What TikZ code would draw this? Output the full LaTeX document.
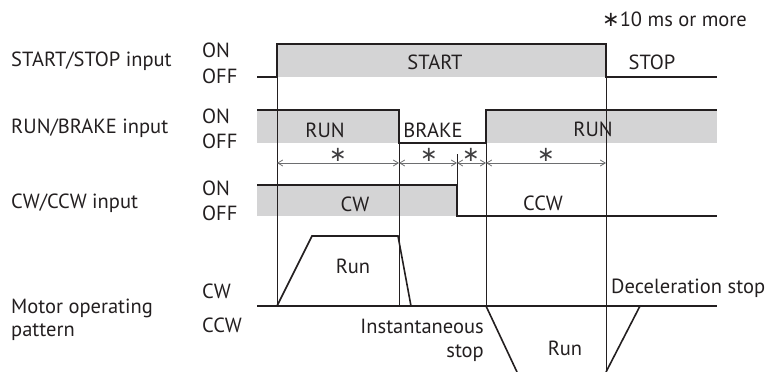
\documentclass[tikz,border=0pt]{standalone}
\usepackage{fontspec}
\setmainfont{PT Sans}
\newfontfamily\symfont{DejaVu Sans}
\usetikzlibrary{arrows.meta}
\definecolor{sig}{HTML}{231F20}
\definecolor{band}{HTML}{D4D4D5}
\definecolor{dimc}{HTML}{6D6E70}
\definecolor{starc}{HTML}{414042}
\newcommand{\starmark}{{\symfont\fontsize{21}{21}\selectfont ∗}}
\begin{document}
\begin{tikzpicture}[x=1pt,y=-1pt,
  font=\fontsize{20.5}{24}\selectfont, text=sig,
  sigline/.style={sig, line width=1.6pt, line join=miter},
  guide/.style={sig, line width=0.8pt},
  dimline/.style={dimc, line width=0.8pt,
    {Straight Barb[length=5pt,width=6pt]}-{Straight Barb[length=5pt,width=6pt]}},
  lbl/.style={anchor=base west, inner sep=0pt},
  rlbl/.style={anchor=base east, inner sep=0pt},
  clbl/.style={anchor=base, inner sep=0pt},
  star/.style={anchor=base, inner sep=0pt, text=starc}]
\useasboundingbox (0,0) rectangle (769,372);

% grey bands
\fill[band] (277,44) rectangle (606,77);
\fill[band] (257,110) rectangle (399,143);
\fill[band] (486,110) rectangle (717,143);
\fill[band] (257,185) rectangle (457,216);

% guide lines
\draw[guide] (277,44) -- (277,306);
\draw[guide] (399,143) -- (399,306);
\draw[guide] (486,143) -- (486,306);
\draw[guide] (606,77) -- (606,372);
\draw[guide] (457,154) -- (457,185);

% signals
\draw[sigline] (257,77) -- (277,77) -- (277,44) -- (606,44) -- (606,77) -- (717,77);
\draw[sigline] (257,110) -- (399,110) -- (399,143) -- (486,143) -- (486,110) -- (717,110);
\draw[sigline] (257,185) -- (457,185) -- (457,216) -- (717,216);
\draw[sigline] (257,306) -- (717,306);
\draw[sigline] (277,306) -- (312,236) -- (398,236) -- (411,306);
\draw[sigline] (486,306) -- (517,372);
\draw[sigline] (606,372) -- (640,306);

% dimension arrows
\coordinate (d0) at (277,163);
\coordinate (d1) at (399,163);
\coordinate (d2) at (457,163);
\coordinate (d3) at (486,163);
\coordinate (d4) at (606,163);
\draw[dimline] (d0) -- (d1);
\draw[dimline] (d1) -- (d2);
\draw[dimline] (d2) -- (d3);
\draw[dimline] (d3) -- (d4);
\node[star] (s1) at (338,161) {\starmark};
\node[star] (s2) at (429,161) {\starmark};
\node[star] (s3) at (471,161) {\starmark};
\node[star] (s4) at (546,161) {\starmark};

% left labels
\node[lbl] (l1) at (11,66) {START/STOP input};
\node[lbl] (l2) at (11,133) {RUN/BRAKE input};
\node[lbl] (l3) at (11,208) {CW/CCW input};
\node[lbl] (l4) at (11,313) {Motor operating};
\node[lbl] (l5) at (11,336) {pattern};

\node[lbl] (on1) at (202,57) {ON};
\node[lbl] (of1) at (202,83) {OFF};
\node[lbl] (on2) at (202,123) {ON};
\node[lbl] (of2) at (202,148) {OFF};
\node[lbl] (on3) at (202,195) {ON};
\node[lbl] (of3) at (202,220) {OFF};
\node[lbl] (cw4) at (202,298) {CW};
\node[lbl] (ccw4) at (202,332) {CCW};

% in-diagram labels
\node[clbl] (tstart) at (435,69) {START};
\node[clbl] (tstop) at (652,69) {STOP};
\node[clbl] (trun1) at (325,137) {RUN};
\node[clbl] (tbrake) at (433,137) {BRAKE};
\node[clbl] (trun2) at (593,136) {RUN};
\node[clbl] (tcw) at (355,211) {CW};
\node[clbl] (tccw) at (543,210) {CCW};
\node[clbl] (mrun1) at (353,273) {Run};
\node[clbl] (mrun2) at (565,355) {Run};
\node[lbl] (tdec) at (611,293) {Deceleration stop};
\node[rlbl] (tinst) at (484,333) {Instantaneous};
\node[rlbl] (tistop) at (484,357) {stop};
\node[lbl] (tnote) at (602,27) {{\symfont\fontsize{21}{21}\selectfont ∗}10 ms or more};
\end{tikzpicture}
\end{document}
